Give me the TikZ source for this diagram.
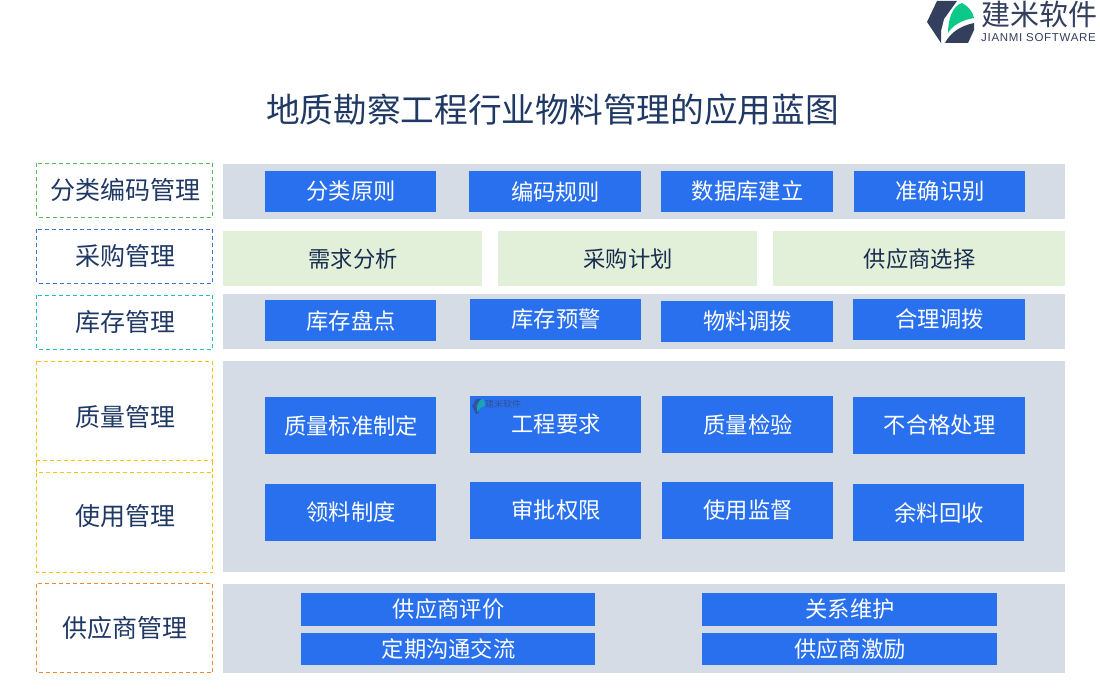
\documentclass[tikz,border=0pt]{standalone}
\usepackage{fontspec}
\setmainfont{Noto Sans CJK SC}
\newfontfamily\latinf[LetterSpace=6]{Liberation Sans}
\definecolor{navy}{HTML}{1F3864}
\definecolor{band}{HTML}{D6DCE5}
\definecolor{pale}{HTML}{E2F0D9}
\definecolor{blu}{HTML}{2970EE}
\definecolor{logod}{HTML}{333F5C}
\definecolor{logog}{HTML}{0CC98A}
\definecolor{dgreen}{HTML}{5CB85C}
\definecolor{dblue}{HTML}{3F6FD0}
\definecolor{dteal}{HTML}{1FBFBF}
\definecolor{dyellow}{HTML}{FFC000}
\definecolor{dorange}{HTML}{F08A30}
\tikzset{
 x=1pt,y=-1pt,
 bandbox/.style={fill=band,draw=none},
 palebox/.style={fill=pale,draw=none,text=navy!80!black,font=\fontsize{22.3}{24}\selectfont,inner xsep=0,inner ysep=0,text depth=0pt},
 btn/.style={fill=blu,draw=none,text=white,font=\fontsize{22.3}{24}\selectfont,inner sep=0},
 lab/.style={text=navy,font=\fontsize{25}{28}\selectfont},
 dashg/.style={draw=dgreen,line width=1.05pt,dash pattern=on 4pt off 3pt},
 dashb/.style={draw=dblue,line width=1.05pt,dash pattern=on 4pt off 3pt},
 dasht/.style={draw=dteal,line width=1.05pt,dash pattern=on 4pt off 3pt},
 dashy/.style={draw=dyellow,line width=1.05pt,dash pattern=on 4pt off 3pt},
 dasho/.style={draw=dorange,line width=1.05pt,dash pattern=on 4pt off 3pt},
}
\newcommand{\tx}[1]{\hspace*{1.2pt}#1}
\begin{document}
\begin{tikzpicture}
\useasboundingbox (0,0) rectangle (1100,700);
\fill[white] (0,0) rectangle (1100,700);
% logo
\fill[logod] (937,1) -- (957,1) -- (944,19) -- (941,31) -- (941,43) -- (927,22) -- cycle;
\fill[logog] (948,33) .. controls (948,20) and (952,6) .. (962,3) .. controls (968,6) and (973,12) .. (974,18) .. controls (962,20) and (953,25) .. (948,33) -- cycle;
\fill[logod] (945,43) .. controls (950,33) and (960,26) .. (974,23) -- (974,30) -- (968,43) -- cycle;
\node[text=logod,font=\fontsize{29}{30}\selectfont,inner sep=0] (logocn) at (1039.5,14) {建米软件};
\node[text=logod,font=\latinf\fontsize{11.5}{12}\selectfont,inner sep=0] (logoen) at (1038.5,38) {JIANMI SOFTWARE};
\node[text=navy,font=\fontsize{33.7}{36}\selectfont,inner sep=0] (title) at (552.5,110) {地质勘察工程行业物料管理的应用蓝图};
% bands
\path[bandbox] (223,164) rectangle (1065,219);
\path[bandbox] (223,294) rectangle (1065,349);
\path[bandbox] (223,361) rectangle (1065,572);
\path[bandbox] (223,584) rectangle (1065,673);
% left labels
\draw[dashg] (36.5,163.5) rectangle (212.5,217.5);
\node[lab] (l1) at (125,190) {分类编码管理};
\draw[dashb] (36.5,229.5) rectangle (212.5,283.5);
\node[lab] (l2) at (125,256) {采购管理};
\draw[dasht] (36.5,295.5) rectangle (212.5,349.5);
\node[lab] (l3) at (125,322) {库存管理};
\draw[dashy] (36.5,361.5) rectangle (212.5,460.5);
\node[lab] (l4) at (125,417) {质量管理};
\draw[dashy] (36.5,472.5) rectangle (212.5,572.5);
\draw[dashy] (36.5,460.5) -- (36.5,472.5) (212.5,460.5) -- (212.5,472.5);
\node[lab] (l5) at (125,516) {使用管理};
\draw[dasho] (36.5,583.5) rectangle (212.5,672.5);
\node[lab] (l6) at (125,628) {供应商管理};
% row 1
\node[btn,minimum width=171pt,minimum height=41pt] (a1) at (350.5,191.5) {\tx{分类原则}};
\node[btn,minimum width=172pt,minimum height=41pt] (a2) at (555,191.5) {\tx{编码规则}};
\node[btn,minimum width=172pt,minimum height=41pt] (a3) at (747,191.5) {\tx{数据库建立}};
\node[btn,minimum width=171pt,minimum height=41pt] (a4) at (939.5,191.5) {\tx{准确识别}};
% row 2
\node[palebox,minimum width=259pt,minimum height=55pt] (b1) at (352.5,258.5) {\tx{需求分析}};
\node[palebox,minimum width=259pt,minimum height=55pt] (b2) at (627.5,258.5) {\tx{采购计划}};
\node[palebox,minimum width=292pt,minimum height=55pt] (b3) at (919,258.5) {\tx{供应商选择}};
% row 3
\node[btn,minimum width=171pt,minimum height=41pt] (c1) at (350.5,320.5) {\tx{库存盘点}};
\node[btn,minimum width=171pt,minimum height=41pt] (c2) at (555.5,319.5) {\tx{库存预警}};
\node[btn,minimum width=172pt,minimum height=41pt] (c3) at (747,321.5) {\tx{物料调拨}};
\node[btn,minimum width=172pt,minimum height=41pt] (c4) at (939,319.5) {\tx{合理调拨}};
% row 4
\node[btn,minimum width=171pt,minimum height=57pt] (d1) at (350.5,425.5) {\tx{质量标准制定}};
\node[btn,minimum width=171pt,minimum height=57pt] (d2) at (555.5,424.5) {\tx{工程要求}};
\node[btn,minimum width=171pt,minimum height=57pt] (d3) at (747.5,424.5) {\tx{质量检验}};
\node[btn,minimum width=172pt,minimum height=57pt] (d4) at (939,425.5) {\tx{不合格处理}};
% watermark
\fill[logod,opacity=.55] (476,399) -- (481,399) -- (476,406) -- (479,413) -- (476,414) -- (472,406) -- cycle;
\fill[logog!60!blu] (477,412) .. controls (477,404) and (479,399) .. (483,399) .. controls (485,402) and (485,404) .. (485,406) .. controls (481,407) and (479,409) .. (477,412) -- cycle;
\node[text=logod,opacity=.6,font=\fontsize{9}{10}\selectfont,inner sep=0] (wm) at (503,404) {建米软件};
% row 5
\node[btn,minimum width=171pt,minimum height=57pt] (e1) at (350.5,512.5) {\tx{领料制度}};
\node[btn,minimum width=171pt,minimum height=57pt] (e2) at (555.5,510.5) {\tx{审批权限}};
\node[btn,minimum width=171pt,minimum height=57pt] (e3) at (747.5,510.5) {\tx{使用监督}};
\node[btn,minimum width=171pt,minimum height=57pt] (e4) at (938.5,512.5) {\tx{余料回收}};
% row 6
\node[btn,minimum width=294pt,minimum height=33pt] (f1) at (448,609.5) {\tx{供应商评价}};
\node[btn,minimum width=295pt,minimum height=33pt] (f2) at (849.5,609.5) {\tx{关系维护}};
\node[btn,minimum width=294pt,minimum height=32pt] (f3) at (448,649) {\tx{定期沟通交流}};
\node[btn,minimum width=295pt,minimum height=32pt] (f4) at (849.5,649) {\tx{供应商激励}};
\end{tikzpicture}
\end{document}
